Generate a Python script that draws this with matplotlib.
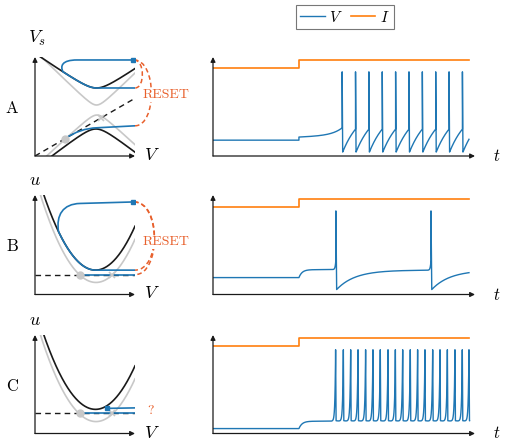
import numpy as np
import matplotlib
matplotlib.use('Agg')
import matplotlib.pyplot as plt
from matplotlib.path import Path
from matplotlib.patches import PathPatch
from matplotlib.lines import Line2D

plt.rcParams['mathtext.fontset'] = 'cm'

BLUE = '#1f77b4'
ORANGE = '#ff7f0e'
RESET_C = '#e8602c'
GRAY = '#c8c8c8'
INK = '#1a1a1a'

# ---- right column: input current and voltage traces (time axis 0..100) ----
t_step = 32.8
t_stop = 97.7
I_low = [0.889, 0.88, 0.89]
I_high = [0.97, 0.96, 0.97]

spikes_A = [49.3, 54.4, 59.5, 64.6, 69.7, 74.8, 79.9, 85.0, 90.1, 95.2]
spikes_B = [46.9, 83.2]
spikes_C = [46.8, 49.75, 52.55, 55.35, 58.25, 61.05, 63.85, 66.8, 69.6, 72.4,
            75.3, 78.1, 80.9, 83.85, 86.65, 89.45, 92.35, 95.15, 97.7]

# (v_start, v_inf, tau, upswing, tau_upswing) for the first interval / later ones
A_rest, A_first, A_later, A_peak = 0.16, (0.19, 0.25, 60.0, 0.08, 4.0), (0.04, 0.5, 7.0, 0.0, 1.0), 0.85
B_rest, B_first, B_later, B_peak = 0.17, (0.17, 0.25, 1.2, 0.1, 0.25), (0.05, 0.245, 7.0, 0.1, 0.25), 0.84
C_rest, C_first, C_later, C_peak = 0.05, (0.05, 0.125, 1.2, 0.72, 0.25), (0.13, 0.125, 1.0, 0.72, 0.25), 0.85

# ---- left column: phase planes ----
# hyperbola branches (x0, y0, h, k, sign)
A_black = [(0.615, 0.687, 0.08, 0.687, 1), (0.61, 0.273, 0.08, 0.78, -1)]
A_gray = [(0.615, 0.515, 0.06, 0.983, 1), (0.62, 0.414, 0.06, 0.933, -1)]
A_dash_slope = 0.583
A_marks = [0.30, 0.66]
# parabolas (x0, y0, a), shared by B and C
BC_black = (0.605, 0.245, 2.83)
BC_gray = (0.61, 0.121, 2.85)
B_dash, C_dash = 0.20, 0.205
BC_marks = [0.45, 0.77]


def hyper(x, p):
    x0, y0, h, k, s = p
    return y0 + s * (np.sqrt(h * h + (k * (x - x0)) ** 2) - h)


def parab(x, p):
    x0, y0, a = p
    return y0 + a * (x - x0) ** 2


def trace(rest, first, later, spikes, peak, t_end, dt_down):
    ts, vs = [0.0, t_step], [rest, rest]
    t0, prm = t_step, first
    for t1 in list(spikes) + [t_end]:
        v0, vinf, tau, up, tau_up = prm
        tt = np.linspace(t0, t1, 250)
        vv = vinf - (vinf - v0) * np.exp(-(tt - t0) / tau)
        if t1 != t_end:
            vv = vv + up * np.exp((tt - t1) / tau_up)
        ts += list(tt)
        vs += list(vv)
        if t1 != t_end:
            ts.append(t1)
            vs.append(peak)
        t0, prm = t1 + dt_down, later
    return ts, vs


W, H = 506, 445
fig = plt.figure(figsize=(W / 100, H / 100), dpi=100)


def px_axes(x0, x1, ytop, ybot):
    ax = fig.add_axes([x0 / W, 1 - ybot / H, (x1 - x0) / W, (ybot - ytop) / H])
    ax.set_axis_off()
    for xy in [(1, 0), (0, 1)]:
        ax.annotate('', xy=xy, xytext=(0, 0), xycoords='axes fraction',
                    arrowprops=dict(arrowstyle='-|>', color=INK, lw=0.9,
                                    mutation_scale=7, shrinkA=0, shrinkB=0))
    return ax


rows = [(57, 156), (195, 294.5), (335, 433.5)]
letters = ['A', 'B', 'C']

# right column
traces = [trace(A_rest, A_first, A_later, spikes_A, A_peak, t_stop, 0.2),
          trace(B_rest, B_first, B_later, spikes_B, B_peak, t_stop, 0.3),
          trace(C_rest, C_first, C_later, spikes_C, C_peak, 97.9, 0.15)]
for i, (top, bot) in enumerate(rows):
    ax = px_axes(213, 475, top, bot)
    ax.set_xlim(0, 100)
    ax.set_ylim(0, 1)
    ax.plot([0, t_step, t_stop], [I_low[i], I_high[i], I_high[i]],
            drawstyle='steps-post', color=ORANGE, lw=1.2)
    ax.plot(*traces[i], color=BLUE, lw=1.0)
    ax.text(108.4, 0.0, '$t$', fontsize=12, ha='center', va='center')

x = np.linspace(0, 1, 400)
blue_kw = dict(fill=False, ec=BLUE, lw=1.2, zorder=3, capstyle='round')
arc_kw = dict(fill=False, ec=RESET_C, lw=1.1, ls=(0, (3, 2)), clip_on=False, zorder=1)
reset_kw = dict(fontsize=10, color=RESET_C, family='cmr10', ha='center', va='center',
                zorder=6, bbox=dict(fc='white', ec='none', pad=0.5))

# ---- A ----
ax = px_axes(35, 135, *rows[0])
ax.set_xlim(0, 1)
ax.set_ylim(0, 1)
for p in A_gray:
    ax.plot(x, hyper(x, p), color=GRAY, lw=1.2, zorder=1)
for p in A_black:
    ax.plot(x, hyper(x, p), color=INK, lw=1.2, zorder=2)
ax.plot([0, 1], [0, A_dash_slope], color=INK, lw=1.0, ls=(0, (4, 3)), zorder=2)
xs = np.linspace(0.28, A_black[0][0], 40)
ys = hyper(xs, A_black[0])
verts = [(0.98, 0.97), (0.42, 0.97), (0.27, 0.97), (0.25, 0.91), (xs[0], ys[0])]
codes = [Path.MOVETO, Path.LINETO, Path.CURVE4, Path.CURVE4, Path.CURVE4]
verts += list(zip(xs[1:], ys[1:])) + [(1.0, A_black[0][1])]
codes += [Path.LINETO] * len(xs)
ax.add_patch(PathPatch(Path(verts, codes), **blue_kw))
y0 = A_dash_slope * A_marks[0]
ax.add_patch(PathPatch(Path([(A_marks[0], y0), (0.45, 0.28), (0.62, 0.285), (1.0, 0.305)],
                            [Path.MOVETO, Path.CURVE3, Path.CURVE3, Path.LINETO]), **blue_kw))
ax.plot(A_marks[0], y0, 'o', color=GRAY, ms=5, zorder=5)
ax.plot(A_marks[1], A_dash_slope * A_marks[1], 'x', color=GRAY, ms=4, mew=1.2, zorder=5)
ax.plot(0.98, 0.97, 's', color=BLUE, ms=3.5, zorder=5)
for yend, cx in [(A_black[0][1], 1.1), (0.305, 1.22)]:
    ax.add_patch(PathPatch(Path([(0.99, 0.97), (cx, 0.97), (cx, yend), (1.0, yend)],
                                [Path.MOVETO, Path.CURVE4, Path.CURVE4, Path.CURVE4]), **arc_kw))
ax.text(1.31, 0.616, 'RESET', **reset_kw)
ax.text(0.02, 1.19, '$V_s$', fontsize=13, ha='center', va='center')

# ---- B and C ----
for j, dash in [(1, B_dash), (2, C_dash)]:
    ax = px_axes(35, 135, *rows[j])
    ax.set_xlim(0, 1)
    ax.set_ylim(0, 1)
    ax.plot(x, parab(x, BC_gray), color=GRAY, lw=1.2, zorder=1)
    ax.plot(x, parab(x, BC_black), color=INK, lw=1.2, zorder=2)
    ax.plot([0, 1], [dash, dash], color=INK, lw=1.0, ls=(0, (4, 3)), zorder=2)
    ax.plot([BC_marks[0], 1.0], [dash, dash], color=BLUE, lw=1.2, zorder=3)
    ax.plot(BC_marks[0], dash, 'o', color=GRAY, ms=5, zorder=5)
    ax.plot(BC_marks[1], dash, 'x', color=GRAY, ms=4, mew=1.2, zorder=5)
    ax.text(0.0, 1.15, '$u$', fontsize=13, ha='center', va='center')
    if j == 1:
        xs = np.linspace(0.235, BC_black[0], 40)
        ys = parab(xs, BC_black)
        verts = [(0.98, 0.93), (0.45, 0.915), (0.28, 0.91), (0.21, 0.80), (xs[0], ys[0])]
        codes = [Path.MOVETO, Path.LINETO, Path.CURVE4, Path.CURVE4, Path.CURVE4]
        verts += list(zip(xs[1:], ys[1:])) + [(1.0, BC_black[1])]
        codes += [Path.LINETO] * len(xs)
        ax.add_patch(PathPatch(Path(verts, codes), **blue_kw))
        ax.plot(0.98, 0.93, 's', color=BLUE, ms=3.5, zorder=5)
        for yend in [BC_black[1], dash]:
            ax.add_patch(PathPatch(Path([(0.99, 0.93), (1.26, 0.93), (1.26, yend), (1.0, yend)],
                                        [Path.MOVETO, Path.CURVE4, Path.CURVE4, Path.CURVE4]),
                                   **arc_kw))
        ax.text(1.31, 0.525, 'RESET', **reset_kw)
    else:
        ax.plot([0.72, 1.0], [0.255, 0.26], color=BLUE, lw=1.2, zorder=3)
        ax.plot(0.72, 0.255, 's', color=BLUE, ms=3.5, zorder=5)
        ax.text(1.16, 0.225, '?', fontsize=10, color=RESET_C, family='cmr10',
                ha='center', va='center')

for (top, bot), lab in zip(rows, letters):
    fig.text(12 / W, 1 - ((top + bot) / 2 + 2) / H, lab, fontsize=12, family='cmr10',
             ha='center', va='center')
    fig.text(152 / W, 1 - (bot - 1) / H, '$V$', fontsize=13, ha='center', va='center')

handles = [Line2D([], [], color=BLUE, lw=1.0), Line2D([], [], color=ORANGE, lw=1.2)]
leg = fig.legend(handles, ['$V$', '$I$'], loc='upper center', ncol=2,
                 bbox_to_anchor=(345 / W, 1 - 5 / H), fontsize=11, frameon=True,
                 fancybox=False, edgecolor='#555555', handlelength=1.6,
                 columnspacing=0.5, handletextpad=0.3, borderpad=0.3, borderaxespad=0)
leg.get_frame().set_linewidth(0.8)

fig.savefig('out.png', dpi=100)
